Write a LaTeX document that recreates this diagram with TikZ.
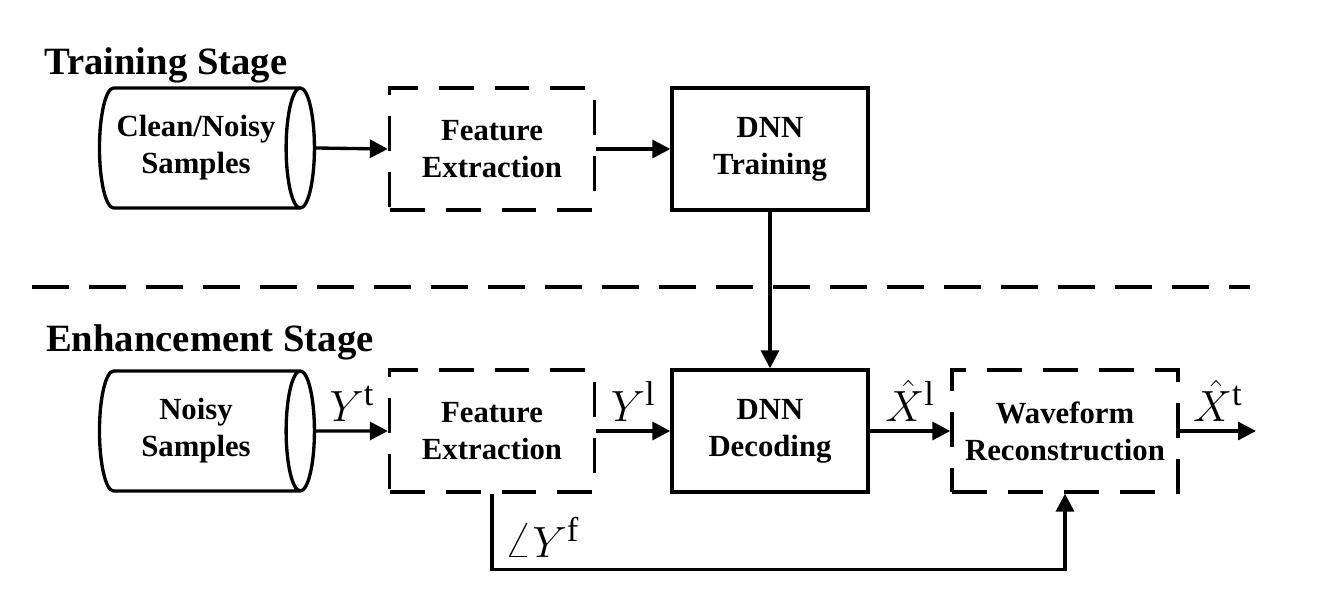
\documentclass[tikz,border=0pt]{standalone}
\usepackage{fontspec}
\setmainfont{Liberation Serif}
\usetikzlibrary{arrows.meta,positioning,shapes.geometric}

\tikzset{
  blk/.style={draw, line width=1.9pt, align=center, font=\fontsize{17.5}{21}\selectfont\bfseries, minimum height=2.44cm},
  dblk/.style={blk, dash pattern=on 0.7cm off 0.42cm},
  store/.style={blk, cylinder, shape aspect=0.37, minimum width=2.4cm, minimum height=4.3cm},
  arr/.style={-{Triangle[length=0.36cm,width=0.36cm]}, line width=1.9pt},
  sig/.style={font=\fontsize{28}{30}\selectfont},
  stage/.style={font=\fontsize{22}{26}\selectfont\bfseries, anchor=base west},
}

\begin{document}
\begin{tikzpicture}[x=0.02cm,y=-0.02cm]
\useasboundingbox (0,0) rectangle (1333,611);
% training stage
\node[stage] (ttl1) at (38,75) {Training Stage};
\node[store] (cyl1) at (196,148) {Clean/Noisy\\Samples};
\node[dblk, minimum width=4.1cm] (fe1) at (492,149) {Feature\\Extraction};
\node[blk, minimum width=3.92cm] (dnn1) at (770,149) {DNN\\Training};
\draw[arr] (cyl1.east) -- (fe1.west);
\draw[arr] (fe1) -- (dnn1);
% separator
\coordinate (sepl) at (32,287);
\coordinate (sepr) at (1250,287);
\draw[line width=1.9pt, dash pattern=on 0.74cm off 0.4cm] (sepl) -- (sepr);
% enhancement stage
\node[stage] (ttl2) at (40,352) {Enhancement Stage};
\node[store] (cyl2) at (196,431) {Noisy\\Samples};
\node[dblk, minimum width=4.1cm] (fe2) at (492,431) {Feature\\Extraction};
\node[blk, minimum width=3.92cm] (dnn2) at (770,431) {DNN\\Decoding};
\node[dblk, minimum width=4.52cm] (wave) at (1065,431) {Waveform\\Reconstruction};
\coordinate (out) at (1256,431);
\draw[arr] (dnn1) -- (dnn2);
\draw[arr] (cyl2.east) -- node[sig, above=1pt] (yt) {$Y^{\mathrm{t}}$} (fe2.west);
\draw[arr] (fe2) -- node[sig, above=1pt] (yl) {$Y^{\mathrm{l}}$} (dnn2);
\draw[arr] (dnn2) -- node[sig, above=1pt] (xl) {$\hat{X}^{\mathrm{l}}$} (wave);
\draw[arr] (wave) -- node[sig, above=1pt] (xt) {$\hat{X}^{\mathrm{t}}$} (out);
% phase path
\draw[arr] (fe2.south) -- ++(0,76) -| (wave.south);
\node[sig, anchor=base west] (yf) at (498,557) {$\angle Y^{\mathrm{f}}$};
\end{tikzpicture}
\end{document}
